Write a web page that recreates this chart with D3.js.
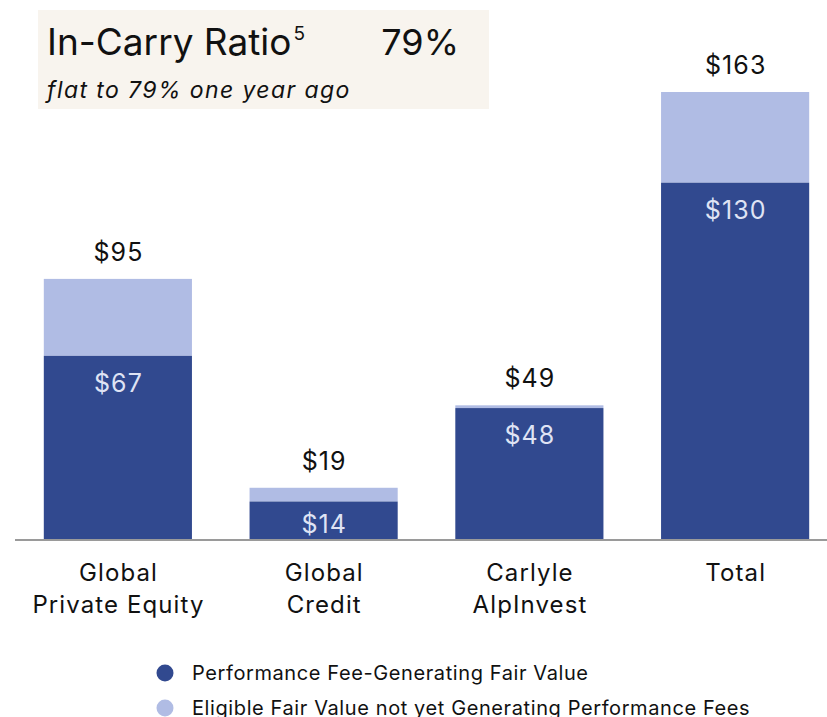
<!DOCTYPE html>
<html>
<head>
<meta charset="utf-8">
<script src="https://cdn.jsdelivr.net/npm/d3@7"></script>
<style>
  html, body { margin: 0; padding: 0; background: #ffffff; }
  svg { display: block; font-family: Inter, "Noto Sans", sans-serif; }
</style>
</head>
<body>
<svg id="chart" width="827" height="717"></svg>
<script>
// ---- data ----
const categories = [["Global", "Private Equity"], ["Global", "Credit"], ["Carlyle", "AlpInvest"], ["Total"]];
const categoryKeys = ["Global Private Equity", "Global Credit", "Carlyle AlpInvest", "Total"];
const generating = [67, 14, 48, 130];
const totals = [95, 19, 49, 163];
const seriesNames = ["Performance Fee-Generating Fair Value", "Eligible Fair Value not yet Generating Performance Fees"];
const titleText = "In-Carry Ratio";
const titleSup = "5";
const titleValue = "79%";
const subtitleText = "flat to 79% one year ago";

// ---- style ----
const darkColor = "#31498f";
const lightColor = "#b0bce4";
const innerLabelColor = "#dfe3f4";

const svg = d3.select("#chart");
const baseY = 540;

const x = d3.scaleBand()
  .domain(categoryKeys)
  .range([15, 838])
  .paddingInner(0.28)
  .paddingOuter(0.14);

const y = d3.scaleLinear()
  .domain([0, 163])
  .range([baseY, 92]);

const rows = categoryKeys.map((k, i) => ({
  key: k, lines: categories[i], gen: generating[i], total: totals[i]
}));
const cx = d => x(d.key) + x.bandwidth() / 2;

// title box
svg.append("rect")
  .attr("x", 38).attr("y", 10).attr("width", 451).attr("height", 99)
  .attr("fill", "#f8f4ee");
const t = svg.append("text").attr("x", 47).attr("y", 55)
  .attr("font-size", 37).attr("fill", "#111");
t.append("tspan").text(titleText);
t.append("tspan").attr("font-size", 19).attr("dx", 2).attr("dy", -15).text(titleSup);
svg.append("text").attr("x", 459).attr("y", 55)
  .attr("text-anchor", "end").attr("font-size", 36).attr("fill", "#111")
  .text(titleValue);
svg.append("text").attr("x", 47).attr("y", 98)
  .attr("font-size", 23).attr("font-style", "italic").attr("fill", "#111")
  .attr("letter-spacing", 1.4)
  .text(subtitleText);

// light (eligible not generating) segments
svg.append("g").selectAll("rect")
  .data(rows).join("rect")
  .attr("x", d => x(d.key))
  .attr("width", x.bandwidth())
  .attr("y", d => y(d.total))
  .attr("height", d => y(d.gen) - y(d.total))
  .attr("fill", lightColor);

// dark (generating) segments
svg.append("g").selectAll("rect")
  .data(rows).join("rect")
  .attr("x", d => x(d.key))
  .attr("width", x.bandwidth())
  .attr("y", d => y(d.gen))
  .attr("height", d => baseY - y(d.gen))
  .attr("fill", darkColor);

// axis line
svg.append("line")
  .attr("x1", 15).attr("x2", 827)
  .attr("y1", baseY).attr("y2", baseY)
  .attr("stroke", "#9a9a9a").attr("stroke-width", 2);

// total labels
svg.append("g").selectAll("text")
  .data(rows).join("text")
  .attr("x", cx)
  .attr("dx", 0.6)
  .attr("y", d => y(d.total) - 18)
  .attr("text-anchor", "middle")
  .attr("font-size", 25)
  .attr("letter-spacing", 1.1)
  .attr("fill", "#111")
  .text(d => "$" + d.total);

// inner labels
svg.append("g").selectAll("text")
  .data(rows).join("text")
  .attr("x", cx)
  .attr("dx", 0.6)
  .attr("y", d => Math.min(y(d.gen) + 36, baseY - 7))
  .attr("text-anchor", "middle")
  .attr("font-size", 25)
  .attr("letter-spacing", 1.1)
  .attr("fill", innerLabelColor)
  .text(d => "$" + d.gen);

// category labels
const cat = svg.append("g").selectAll("text")
  .data(rows).join("text")
  .attr("y", baseY + 41)
  .attr("text-anchor", "middle")
  .attr("font-size", 24)
  .attr("letter-spacing", 1.1)
  .attr("fill", "#111");
cat.selectAll("tspan")
  .data(d => d.lines.map(l => ({ l, c: cx(d) })))
  .join("tspan")
  .attr("x", d => d.c + 0.6)
  .attr("dy", (d, i) => i === 0 ? 0 : 32)
  .text(d => d.l);

// legend
const legend = svg.append("g").selectAll("g")
  .data(seriesNames).join("g")
  .attr("transform", (d, i) => `translate(165, ${673 + i * 35})`);
legend.append("circle")
  .attr("r", 8.5)
  .attr("fill", (d, i) => i === 0 ? darkColor : lightColor);
legend.append("text")
  .attr("x", 27).attr("y", 7)
  .attr("font-size", 20).attr("fill", "#111")
  .attr("letter-spacing", 0.6)
  .text(d => d);
</script>
</body>
</html>
